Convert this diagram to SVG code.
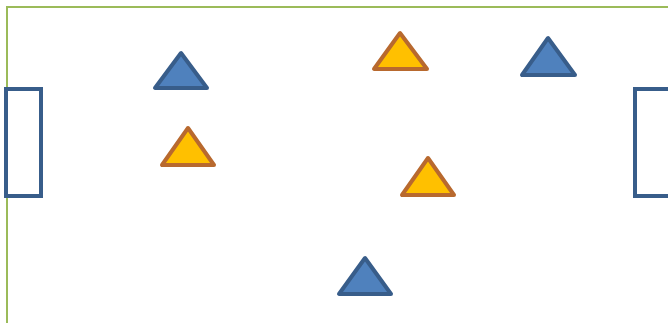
<svg xmlns="http://www.w3.org/2000/svg" width="668" height="323" viewBox="0 0 668 323">
<style>
.field{fill:none;stroke:#9bbb59;stroke-width:2}
.goal{fill:#ffffff;stroke:#385d8a;stroke-width:4}
.blue{fill:#4f81bd;stroke:#385d8a;stroke-width:4;stroke-linejoin:round}
.orange{fill:#ffc000;stroke:#b8692e;stroke-width:4;stroke-linejoin:round}
</style>
<rect width="668" height="323" fill="#ffffff"/>
<path class="field" d="M7 323 V7 H668"/>
<g id="goal-left"><rect class="goal" x="6" y="89" width="35" height="107"/></g>
<g id="goal-right"><rect class="goal" x="635" y="89" width="40" height="107"/></g>
<g id="blue1"><polygon class="blue" points="181,53 155,88 207,88"/></g>
<g id="blue2"><polygon class="blue" points="548,38 522,75 575,75"/></g>
<g id="blue3"><polygon class="blue" points="365,258 339,294 391,294"/></g>
<g id="orange1"><polygon class="orange" points="400,33 374,69 427,69"/></g>
<g id="orange2"><polygon class="orange" points="188,128 162,165 214,165"/></g>
<g id="orange3"><polygon class="orange" points="428,158 402,195 454,195"/></g>
<g id="connectors"></g>
</svg>
